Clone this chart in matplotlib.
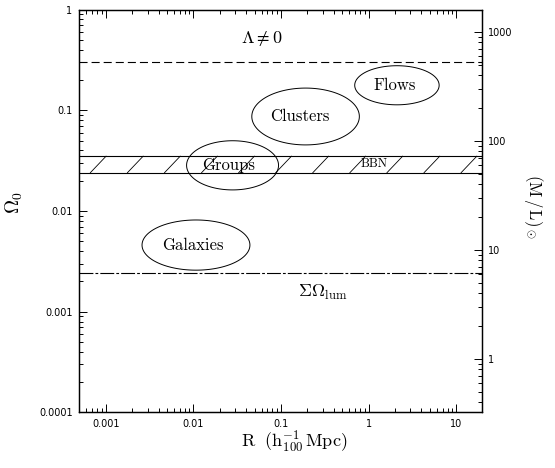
import numpy as np
import matplotlib.pyplot as plt
import matplotlib.transforms as mtransforms
from matplotlib.ticker import FixedLocator, LogLocator, NullFormatter

plt.rcParams['mathtext.fontset'] = 'cm'
plt.rcParams['lines.scale_dashes'] = False

# axis ticks
r_ticks = [0.001, 0.01, 0.1, 1, 10]
r_tick_labels = ['0.001', '0.01', '0.1', '1', '10']
omega_ticks = [0.0001, 0.001, 0.01, 0.1, 1]
omega_tick_labels = ['0.0001', '0.001', '0.01', '0.1', '1']
ml_ticks = [1, 10, 100, 1000]
ml_tick_labels = ['1', '10', '100', '1000']

# horizontal levels
omega_lambda = 0.3
omega_lum = 0.0024
bbn_low = 0.024
bbn_high = 0.035

# regions: centre (R, Omega) and half-widths in decades
region_names = ['Galaxies', 'Groups', 'Clusters', 'Flows']
region_r = [0.0107, 0.028, 0.191, 2.11]
region_omega = [0.00459, 0.0284, 0.0867, 0.177]
region_dlogr = [0.616, 0.525, 0.614, 0.482]
region_dlogomega = [0.249, 0.244, 0.282, 0.194]
region_label_r = [0.0098, 0.0252, 0.165, 2.01]

fig = plt.figure(figsize=(5.55, 4.68), dpi=100)
ax = fig.add_axes([0.1432, 0.1186, 0.7261, 0.8611])
ax.set_xscale('log')
ax.set_yscale('log')
ax.set_xlim(5.0e-4, 20)
ax.set_ylim(1e-4, 1)

# Lambda != 0 line and luminous matter line
ax.axhline(omega_lambda, color='k', lw=0.8, dashes=(5.8, 2.9))
ax.axhline(omega_lum, color='k', lw=0.8, dashes=(10, 1.5, 2, 1.5))

# BBN band with sparse hatching
ax.axhline(bbn_low, color='k', lw=0.8)
ax.axhline(bbn_high, color='k', lw=0.8)
trans = mtransforms.blended_transform_factory(ax.transAxes, ax.transData)
for x0 in np.arange(0.027, 0.96, 0.092):
    ax.plot([x0, x0 + 0.039], [bbn_low, bbn_high], transform=trans,
            color='k', lw=0.6)

# ellipses (drawn in log space)
t = np.linspace(0, 2 * np.pi, 300)
for name, r, om, dr, do, lr in zip(region_names, region_r, region_omega,
                                   region_dlogr, region_dlogomega,
                                   region_label_r):
    xs = 10 ** (np.log10(r) + dr * np.cos(t))
    ys = 10 ** (np.log10(om) + do * np.sin(t))
    ax.fill(xs, ys, facecolor='none', edgecolor='k', lw=0.7)
    ax.text(lr, om, name, ha='center', va='center', fontsize=12,
            fontfamily='cmr10')

ax.text(1.17, 0.0293, 'BBN', ha='center', va='center', fontsize=9,
        fontfamily='cmr10')
ax.text(0.060, 0.468, r'$\Lambda\neq0$', ha='center', va='baseline',
        fontsize=13)
ax.text(0.157, 0.0014, r'$\Sigma\Omega_{\rm lum}$', ha='left',
        va='baseline', fontsize=13)

# ticks
ax.xaxis.set_major_locator(FixedLocator(r_ticks))
ax.set_xticklabels(r_tick_labels)
ax.xaxis.set_minor_locator(LogLocator(subs=np.arange(2, 10)))
ax.xaxis.set_minor_formatter(NullFormatter())
ax.yaxis.set_major_locator(FixedLocator(omega_ticks))
ax.set_yticklabels(omega_tick_labels)
ax.yaxis.set_minor_locator(LogLocator(subs=np.arange(2, 10)))
ax.yaxis.set_minor_formatter(NullFormatter())
ax.tick_params(which='both', direction='in', top=True, right=False,
               width=0.7, labelsize=7)
ax.tick_params(which='major', length=5.5)
ax.tick_params(which='minor', length=2.8)
ax.tick_params(axis='x', pad=4.5)
ax.tick_params(axis='y', pad=5)

ax2 = ax.twinx()
ax2.set_yscale('log')
ax2.set_ylim(0.321, 1603)
ax2.yaxis.set_major_locator(FixedLocator(ml_ticks))
ax2.set_yticklabels(ml_tick_labels)
ax2.yaxis.set_minor_locator(LogLocator(subs=np.arange(2, 10)))
ax2.yaxis.set_minor_formatter(NullFormatter())
ax2.tick_params(which='both', direction='in', width=0.7, labelsize=7,
                pad=4.3)
ax2.tick_params(which='major', length=5.5)
ax2.tick_params(which='minor', length=2.8)

for a in (ax, ax2):
    for sp in a.spines.values():
        sp.set_linewidth(0.9)

# axis labels
ax.text(-0.1625, 0.522, r'$\Omega_0$', transform=ax.transAxes,
        rotation=90, ha='center', va='center', fontsize=14)
ax.text(1.127, 0.511, r'$(\mathrm{M\,/\,L})_\odot$', transform=ax.transAxes,
        rotation=270, ha='center', va='center', fontsize=12)
ax.text(0.532, -0.073, r'$\mathrm{R}\ \ (\mathrm{h}^{-1}_{100}\,\mathrm{Mpc})$',
        transform=ax.transAxes, ha='center', va='center', fontsize=13)

fig.savefig('out.png', dpi=100)
